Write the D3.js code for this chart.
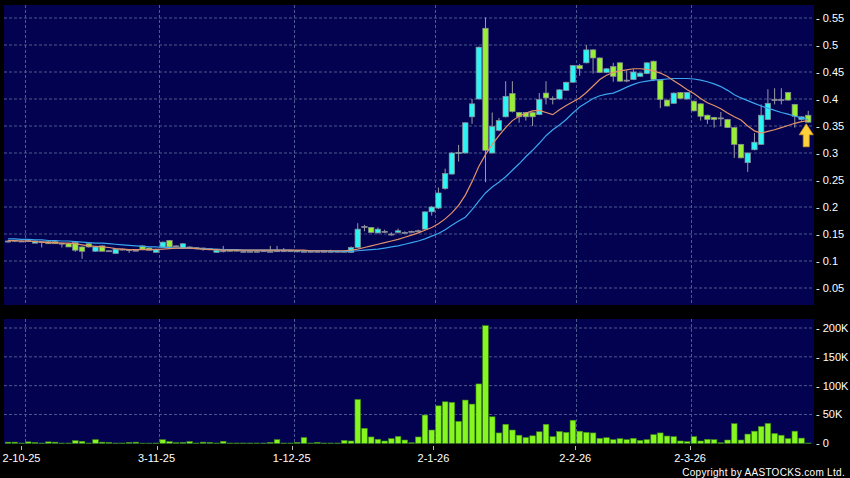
<!DOCTYPE html>
<html>
<head>
<meta charset="utf-8">
<script src="https://cdn.jsdelivr.net/npm/d3@7"></script>
<style>
    body { margin: 0; background: #000; }
    svg { display: block; }
    text { font-family: "Liberation Sans", Arial, sans-serif; fill: #fff; }
</style>
</head>
<body>
<div id="chart"></div>
<script>
// daily candles, 29-9-25 .. 25-3-26 (index = trading day)
var open = [
    0.137, 0.138, 0.137, 0.138, 0.133, 0.136, 0.136, 0.136, 0.133, 0.132,
    0.134, 0.126, 0.132, 0.118, 0.128, 0.119, 0.114, 0.122, 0.121, 0.120,
    0.128, 0.124, 0.116, 0.126, 0.138, 0.128, 0.124, 0.126, 0.125, 0.124,
    0.123, 0.116, 0.119, 0.120, 0.120, 0.118, 0.118, 0.118, 0.119, 0.118,
    0.119, 0.119, 0.119, 0.119, 0.118, 0.118, 0.118, 0.118, 0.118, 0.118,
    0.118, 0.116, 0.125, 0.164, 0.162, 0.152, 0.155, 0.150, 0.153, 0.153,
    0.155, 0.156, 0.159, 0.191, 0.198, 0.234, 0.261, 0.299, 0.300, 0.367,
    0.400, 0.531, 0.300, 0.342, 0.367, 0.410, 0.375, 0.375, 0.375, 0.371,
    0.411, 0.401, 0.400, 0.416, 0.431, 0.462, 0.467, 0.491, 0.476, 0.449,
    0.460, 0.467, 0.435, 0.436, 0.442, 0.447, 0.470, 0.435, 0.398, 0.392,
    0.412, 0.400, 0.396, 0.391, 0.370, 0.366, 0.365, 0.362, 0.347, 0.316,
    0.282, 0.306, 0.316, 0.362, 0.399, 0.399, 0.412, 0.390, 0.362, 0.370
];
var high = [
    0.139, 0.139, 0.138, 0.140, 0.138, 0.137, 0.137, 0.137, 0.134, 0.133,
    0.135, 0.127, 0.133, 0.127, 0.129, 0.120, 0.123, 0.123, 0.122, 0.121,
    0.129, 0.125, 0.123, 0.136, 0.139, 0.129, 0.133, 0.127, 0.126, 0.125,
    0.124, 0.121, 0.128, 0.121, 0.121, 0.119, 0.119, 0.119, 0.120, 0.128,
    0.128, 0.124, 0.120, 0.120, 0.120, 0.119, 0.119, 0.119, 0.121, 0.119,
    0.119, 0.127, 0.170, 0.167, 0.163, 0.162, 0.158, 0.153, 0.160, 0.155,
    0.156, 0.158, 0.192, 0.202, 0.236, 0.271, 0.302, 0.315, 0.357, 0.400,
    0.497, 0.551, 0.375, 0.365, 0.433, 0.433, 0.376, 0.376, 0.376, 0.411,
    0.433, 0.405, 0.418, 0.432, 0.463, 0.465, 0.500, 0.492, 0.477, 0.457,
    0.467, 0.468, 0.453, 0.455, 0.449, 0.468, 0.471, 0.436, 0.399, 0.412,
    0.413, 0.413, 0.397, 0.392, 0.371, 0.367, 0.376, 0.363, 0.348, 0.317,
    0.301, 0.337, 0.390, 0.418, 0.420, 0.420, 0.413, 0.391, 0.368, 0.378
];
var low = [
    0.134, 0.135, 0.136, 0.135, 0.133, 0.125, 0.132, 0.132, 0.125, 0.126,
    0.117, 0.104, 0.125, 0.117, 0.118, 0.118, 0.113, 0.120, 0.115, 0.119,
    0.121, 0.120, 0.116, 0.125, 0.124, 0.127, 0.123, 0.125, 0.124, 0.119,
    0.122, 0.116, 0.116, 0.118, 0.118, 0.116, 0.117, 0.117, 0.118, 0.117,
    0.118, 0.118, 0.118, 0.116, 0.117, 0.117, 0.117, 0.117, 0.116, 0.117,
    0.117, 0.115, 0.124, 0.155, 0.152, 0.151, 0.152, 0.147, 0.151, 0.152,
    0.154, 0.155, 0.158, 0.184, 0.196, 0.232, 0.260, 0.284, 0.299, 0.354,
    0.399, 0.246, 0.299, 0.340, 0.366, 0.375, 0.356, 0.360, 0.350, 0.370,
    0.390, 0.390, 0.399, 0.415, 0.430, 0.443, 0.466, 0.447, 0.448, 0.448,
    0.432, 0.432, 0.431, 0.435, 0.441, 0.446, 0.433, 0.383, 0.386, 0.391,
    0.400, 0.399, 0.377, 0.360, 0.354, 0.347, 0.350, 0.347, 0.291, 0.290,
    0.265, 0.305, 0.315, 0.361, 0.390, 0.390, 0.397, 0.347, 0.360, 0.356
];
var close = [
    0.137, 0.138, 0.137, 0.138, 0.137, 0.136, 0.132, 0.132, 0.133, 0.126,
    0.120, 0.118, 0.126, 0.126, 0.118, 0.119, 0.122, 0.122, 0.121, 0.120,
    0.122, 0.120, 0.122, 0.135, 0.126, 0.128, 0.132, 0.126, 0.125, 0.124,
    0.123, 0.120, 0.119, 0.118, 0.120, 0.118, 0.118, 0.118, 0.119, 0.118,
    0.119, 0.119, 0.119, 0.117, 0.118, 0.118, 0.118, 0.118, 0.118, 0.118,
    0.118, 0.125, 0.159, 0.164, 0.153, 0.159, 0.155, 0.150, 0.156, 0.153,
    0.155, 0.156, 0.191, 0.200, 0.226, 0.262, 0.300, 0.301, 0.356, 0.391,
    0.496, 0.305, 0.349, 0.360, 0.405, 0.377, 0.367, 0.367, 0.367, 0.399,
    0.402, 0.401, 0.417, 0.431, 0.462, 0.456, 0.491, 0.476, 0.449, 0.456,
    0.442, 0.433, 0.435, 0.450, 0.448, 0.467, 0.436, 0.399, 0.387, 0.411,
    0.401, 0.412, 0.378, 0.368, 0.362, 0.362, 0.365, 0.347, 0.316, 0.291,
    0.300, 0.320, 0.370, 0.392, 0.399, 0.399, 0.398, 0.368, 0.367, 0.357
];
// volume, thousands of shares
var volume = [
    2, 2, 0.5, 2.5, 1.5, 0.5, 2.5, 2, 0.5, 0.5,
    4.6, 3.5, 0.5, 6.3, 2, 1.5, 0.5, 0.5, 1.5, 2,
    0.3, 0.3, 0.5, 6.3, 3, 1, 1.5, 3, 0.5, 2,
    1.5, 0.5, 3.5, 0.5, 0.5, 0.5, 0.5, 0.5, 0.5, 1.5,
    6.3, 0.5, 0.5, 1.5, 10, 0.5, 1.5, 0.5, 0.5, 0.5,
    5, 4, 76, 26, 11, 7, 4, 8, 12, 5.7,
    1, 11, 49, 23, 65, 72, 71, 38, 75, 68,
    103, 204, 46, 18, 33, 23, 14, 10, 13, 20,
    33, 11.5, 20.5, 19, 40, 21, 19, 18, 8.6, 9.7,
    6.3, 8, 6.3, 8.6, 5, 6.3, 15, 18, 12.6, 11.5,
    4, 2.9, 11.5, 4, 6.9, 6.3, 1, 5.7, 34, 5.7,
    16, 21, 29, 34.5, 17, 14, 8, 21, 9, 0.5
];
// moving averages as drawn (orange = short, blue = long)
var maShort = [
    0.138, 0.138, 0.137, 0.137, 0.136, 0.135, 0.134, 0.134, 0.133, 0.133,
    0.132, 0.130, 0.128, 0.127, 0.126, 0.125, 0.123, 0.122, 0.121, 0.121,
    0.121, 0.121, 0.121, 0.122, 0.123, 0.124, 0.124, 0.124, 0.123, 0.122,
    0.121, 0.121, 0.120, 0.120, 0.120, 0.120, 0.120, 0.120, 0.120, 0.120,
    0.120, 0.120, 0.120, 0.120, 0.120, 0.119, 0.119, 0.119, 0.119, 0.119,
    0.119, 0.120, 0.122, 0.125, 0.128, 0.131, 0.134, 0.137, 0.140, 0.144,
    0.148, 0.152, 0.157, 0.162, 0.169, 0.178, 0.189, 0.203, 0.222, 0.247,
    0.275, 0.297, 0.316, 0.332, 0.347, 0.360, 0.368, 0.374, 0.378, 0.379,
    0.375, 0.371, 0.380, 0.388, 0.395, 0.402, 0.412, 0.424, 0.436, 0.444,
    0.449, 0.452, 0.454, 0.456, 0.456, 0.455, 0.452, 0.448, 0.442, 0.434,
    0.426, 0.417, 0.410, 0.401, 0.393, 0.388, 0.382, 0.374, 0.367, 0.361,
    0.350, 0.341, 0.337, 0.340, 0.343, 0.347, 0.351, 0.355, 0.358, 0.360
];
var maLong = [
    0.141, 0.141, 0.140, 0.140, 0.139, 0.139, 0.138, 0.138, 0.137, 0.137,
    0.136, 0.135, 0.134, 0.133, 0.133, 0.132, 0.131, 0.130, 0.129, 0.128,
    0.127, 0.126, 0.126, 0.125, 0.125, 0.124, 0.124, 0.124, 0.123, 0.123,
    0.122, 0.122, 0.121, 0.121, 0.121, 0.120, 0.120, 0.120, 0.120, 0.120,
    0.120, 0.120, 0.120, 0.119, 0.119, 0.119, 0.119, 0.119, 0.118, 0.118,
    0.118, 0.118, 0.119, 0.120, 0.121, 0.122, 0.124, 0.126, 0.128, 0.131,
    0.134, 0.137, 0.141, 0.146, 0.151, 0.158, 0.166, 0.174, 0.181, 0.195,
    0.211, 0.226, 0.237, 0.246, 0.256, 0.268, 0.280, 0.293, 0.305, 0.318,
    0.332, 0.343, 0.352, 0.362, 0.374, 0.385, 0.393, 0.401, 0.406, 0.409,
    0.411, 0.416, 0.422, 0.427, 0.431, 0.433, 0.435, 0.436, 0.437, 0.438,
    0.438, 0.438, 0.437, 0.435, 0.432, 0.428, 0.423, 0.416, 0.408, 0.402,
    0.397, 0.392, 0.387, 0.383, 0.379, 0.375, 0.372, 0.368, 0.365, 0.362
];

var dateIndex = [3, 23, 43, 64, 85, 102];
var dateLabels = ["2-10-25", "3-11-25", "1-12-25", "2-1-26", "2-2-26", "2-3-26"];
var priceTicks = [0.05, 0.1, 0.15, 0.2, 0.25, 0.3, 0.35, 0.4, 0.45, 0.5, 0.55];
var priceLabels = ["0.05", "0.1", "0.15", "0.2", "0.25", "0.3", "0.35", "0.4", "0.45", "0.5", "0.55"];
var volTicks = [0, 50000, 100000, 150000, 200000];
var volLabels = ["0", "50K", "100K", "150K", "200K"];

var W = 850, H = 478;
var plotL = 4, plotR = 814;
var priceTop = 5, priceBot = 305;
var volTop = 319, volBot = 444;

var data = open.map(function (d, i) {
    return {i: i, o: open[i], h: high[i], l: low[i], c: close[i], v: volume[i] * 1000};
});

var svg = d3.select("#chart").append("svg")
    .attr("width", W)
    .attr("height", H);

svg.append("rect").attr("width", W).attr("height", H).attr("fill", "#000");

var x = d3.scaleBand()
    .domain(d3.range(data.length))
    .range([4.74, 811.6]);
var cx = function (i) { return x(i) + x.bandwidth() / 2; };

var y = d3.scaleLinear().domain([0, 0.55]).range([315, 18]);
var yv = d3.scaleLinear().domain([0, 200000]).range([443.3, 328]);

// panels
[[priceTop, priceBot], [volTop, volBot]].forEach(function (p) {
    svg.append("rect")
        .attr("x", plotL).attr("y", p[0])
        .attr("width", plotR - plotL).attr("height", p[1] - p[0])
        .attr("fill", "#020250");
});

var gridColor = "#4d5a8c";

// horizontal grid
svg.selectAll(".hgrid")
    .data(priceTicks)
    .enter().append("line")
    .attr("x1", plotL).attr("x2", plotR)
    .attr("y1", function (d) { return y(d); })
    .attr("y2", function (d) { return y(d); })
    .attr("stroke", gridColor)
    .attr("stroke-dasharray", "3,2");

svg.selectAll(".vgridh")
    .data(volTicks.slice(1))
    .enter().append("line")
    .attr("x1", plotL).attr("x2", plotR)
    .attr("y1", function (d) { return yv(d); })
    .attr("y2", function (d) { return yv(d); })
    .attr("stroke", gridColor)
    .attr("stroke-dasharray", "3,2");

// vertical grid at date ticks
dateIndex.forEach(function (i) {
    var gx = Math.round(x(i)) + 0.5;
    [[priceTop, priceBot], [volTop, volBot]].forEach(function (p) {
        svg.append("line")
            .attr("x1", gx).attr("x2", gx)
            .attr("y1", p[0]).attr("y2", p[1])
            .attr("stroke", gridColor)
            .attr("stroke-dasharray", "3,2");
    });
});

// date ticks and labels, sit a little left of the grid early on
var labelX = function (i) { return x(i) - 3.5 * (1 - i / data.length); };

svg.selectAll(".dtick")
    .data(dateIndex)
    .enter().append("line")
    .attr("x1", function (d) { return Math.round(labelX(d)) + 0.5; })
    .attr("x2", function (d) { return Math.round(labelX(d)) + 0.5; })
    .attr("y1", 446).attr("y2", 450)
    .attr("stroke", "#bbb");

svg.selectAll(".dlabel")
    .data(dateIndex)
    .enter().append("text")
    .attr("x", function (d) { return labelX(d); })
    .attr("y", 462)
    .attr("text-anchor", "middle")
    .attr("font-size", 11)
    .text(function (d, i) { return dateLabels[i]; });

// volume bars
svg.selectAll(".vol")
    .data(data)
    .enter().append("rect")
    .attr("class", "vol")
    .attr("x", function (d) { return cx(d.i) - 2.8; })
    .attr("width", 5.6)
    .attr("y", function (d) { return yv(d.v); })
    .attr("height", function (d) { return yv(0) - yv(d.v); })
    .attr("fill", "#86f520")
    .attr("stroke", "#3f8f12")
    .attr("stroke-width", 0.6);

// candle wicks
svg.selectAll(".wick")
    .data(data)
    .enter().append("line")
    .attr("x1", function (d) { return cx(d.i); })
    .attr("x2", function (d) { return cx(d.i); })
    .attr("y1", function (d) { return y(d.h); })
    .attr("y2", function (d) { return y(d.l); })
    .attr("stroke", "#9a9aa6")
    .attr("stroke-width", 1);

// candle bodies
svg.selectAll(".body")
    .data(data)
    .enter().append("rect")
    .attr("x", function (d) { return cx(d.i) - 2.7; })
    .attr("width", 5.4)
    .attr("y", function (d) { return y(Math.max(d.o, d.c)); })
    .attr("height", function (d) { return Math.max(1, y(Math.min(d.o, d.c)) - y(Math.max(d.o, d.c))); })
    .attr("fill", function (d) {
        if (d.c > d.o) return "#2ef3f3";
        if (d.c < d.o) return "#98ef36";
        return "#a0a0a8";
    })
    .attr("stroke", "#8c8c96")
    .attr("stroke-width", 0.7);

// moving averages
var line = d3.line()
    .x(function (d, i) { return cx(i); })
    .y(function (d) { return y(d); });

svg.append("path")
    .datum(maLong)
    .attr("d", line)
    .attr("fill", "none")
    .attr("stroke", "#3aa6ee")
    .attr("stroke-width", 1.2);

svg.append("path")
    .datum(maShort)
    .attr("d", line)
    .attr("fill", "none")
    .attr("stroke", "#e39268")
    .attr("stroke-width", 1.2);

// latest-day arrow
var last = data[data.length - 1];
var ax = cx(last.i) - 2, ay = y(last.l) + 1;
svg.append("path")
    .attr("d", "M" + ax + "," + ay +
        "L" + (ax + 7) + "," + (ay + 11) +
        "L" + (ax + 3) + "," + (ay + 11) +
        "L" + (ax + 3) + "," + (ay + 23) +
        "L" + (ax - 3) + "," + (ay + 23) +
        "L" + (ax - 3) + "," + (ay + 11) +
        "L" + (ax - 7) + "," + (ay + 11) + "Z")
    .attr("fill", "#ffd23c")
    .attr("stroke", "#d99a14")
    .attr("stroke-width", 0.8);

// right axis labels
svg.selectAll(".plabel")
    .data(priceTicks)
    .enter().append("text")
    .attr("x", 816)
    .attr("y", function (d) { return y(d); })
    .attr("dy", "0.36em")
    .attr("font-size", 11)
    .text(function (d, i) { return "- " + priceLabels[i]; });

svg.selectAll(".vlabel")
    .data(volTicks)
    .enter().append("text")
    .attr("x", 816)
    .attr("y", function (d) { return yv(d); })
    .attr("dy", "0.36em")
    .attr("font-size", 11)
    .text(function (d, i) { return "- " + volLabels[i]; });

svg.append("text")
    .attr("x", 845)
    .attr("y", 476)
    .attr("text-anchor", "end")
    .attr("font-size", 10)
    .attr("letter-spacing", "0.3px")
    .text("Copyright by AASTOCKS.com Ltd.");
</script>
</body>
</html>
